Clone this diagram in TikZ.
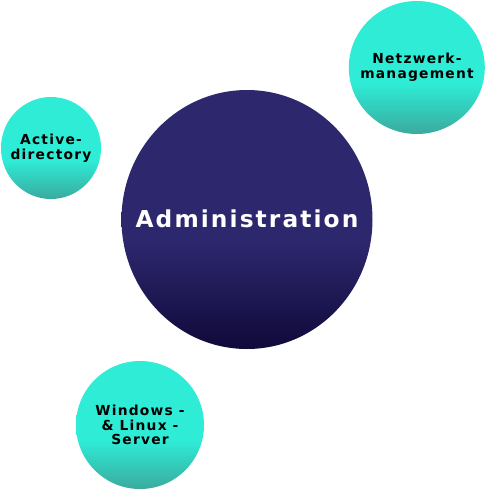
\documentclass[tikz,border=0pt]{standalone}
\usepackage{fontspec}
\setmainfont{DejaVu Sans}
\newfontfamily\bubblefont[LetterSpace=9]{DejaVu Sans Bold}
\definecolor{tealtop}{RGB}{46,236,214}
\definecolor{tealbot}{RGB}{58,170,158}
\definecolor{purptop}{RGB}{45,40,110}
\definecolor{purpbot}{RGB}{16,9,58}
\pgfdeclareverticalshading{tealshade}{100bp}{color(0bp)=(tealbot); color(25bp)=(tealbot); color(44bp)=(tealtop); color(100bp)=(tealtop)}
\pgfdeclareverticalshading{purpshade}{100bp}{color(0bp)=(purpbot); color(25bp)=(purpbot); color(46bp)=(purptop); color(100bp)=(purptop)}
\begin{document}
\begin{tikzpicture}[x=1pt,y=-1pt,
  bubble/.style={inner sep=0pt, align=center, text=black,
    font=\bubblefont\fontsize{13.8}{14.8}\selectfont},
  hub/.style={inner sep=0pt, align=center, text=white,
    font=\bubblefont\fontsize{23.3}{27}\selectfont},
  tealfill/.style={shading=tealshade},
  purpfill/.style={shading=purpshade}]
\useasboundingbox (0,0) rectangle (487,491);
\shade[purpfill] (247,219.5) ellipse [x radius=125.5pt, y radius=129.5pt];
\shade[tealfill] (416.8,67.5) ellipse [x radius=68pt, y radius=66.5pt];
\shade[tealfill] (51,148) ellipse [x radius=50pt, y radius=51pt];
\shade[tealfill] (140,425) circle (64pt);
\node[hub] (admin) at (247,219) {Administration};
\node[bubble] (netz) at (417,67) {Netzwerk-\\management};
\node[bubble] (ad) at (51,148) {Active-\\directory};
\node[bubble] (win) at (140,425) {Windows -\\\& Linux -\\Server};
\end{tikzpicture}
\end{document}
